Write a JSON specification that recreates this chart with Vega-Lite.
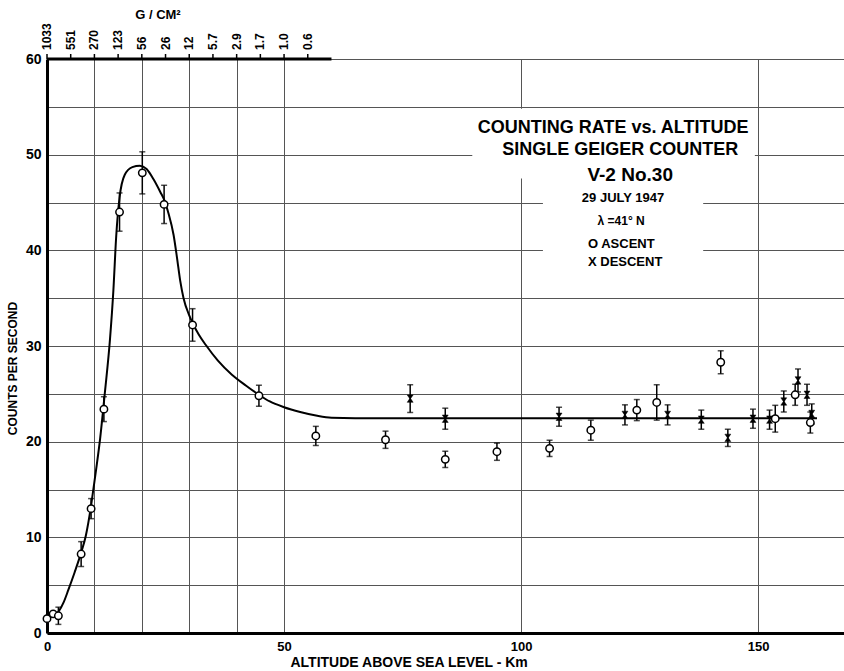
{
  "$schema": "https://vega.github.io/schema/vega-lite/v6.json",
  "width": 797,
  "height": 574,
  "autosize": {"type": "none"},
  "padding": {"left": 47, "top": 59, "right": 0, "bottom": 38},
  "background": "white",
  "config": {
    "view": {"stroke": null},
    "font": "Liberation Sans",
    "axis": {
      "labelFont": "Liberation Sans",
      "labelFontWeight": "bold",
      "labelColor": "black",
      "titleFont": "Liberation Sans",
      "titleFontWeight": "bold",
      "titleColor": "black",
      "gridColor": "#555555",
      "gridWidth": 1,
      "domainColor": "black",
      "tickColor": "black"
    },
    "text": {"font": "Liberation Sans", "fontWeight": "bold", "color": "black"}
  },
  "datasets": {
    "curve": [
      {"km": 0, "rate": 1.5}, {"km": 1, "rate": 1.7}, {"km": 2.4, "rate": 2.2}, {"km": 3.5, "rate": 3.2},
      {"km": 4.5, "rate": 4.5}, {"km": 5.8, "rate": 6.3}, {"km": 7.2, "rate": 8.4}, {"km": 8.2, "rate": 10.2},
      {"km": 9.2, "rate": 13.0}, {"km": 9.8, "rate": 15.1}, {"km": 10.5, "rate": 17.6}, {"km": 11.2, "rate": 20.3},
      {"km": 12.2, "rate": 25.1}, {"km": 13.3, "rate": 30.8}, {"km": 14.0, "rate": 35.8}, {"km": 14.6, "rate": 41.5},
      {"km": 15.3, "rate": 45.5}, {"km": 16.4, "rate": 47.9}, {"km": 18.0, "rate": 48.7}, {"km": 19.6, "rate": 48.85},
      {"km": 21.0, "rate": 48.5}, {"km": 22.5, "rate": 47.4}, {"km": 24.0, "rate": 46.0}, {"km": 24.7, "rate": 45.3},
      {"km": 25.6, "rate": 43.9}, {"km": 26.7, "rate": 41.6}, {"km": 27.4, "rate": 39.3}, {"km": 28.1, "rate": 36.8},
      {"km": 28.8, "rate": 35.0}, {"km": 30.0, "rate": 33.2}, {"km": 30.7, "rate": 32.4}, {"km": 32.0, "rate": 31.2},
      {"km": 33.5, "rate": 30.1}, {"km": 36.0, "rate": 28.5}, {"km": 39.0, "rate": 27.0}, {"km": 42.0, "rate": 25.85},
      {"km": 44.7, "rate": 24.9}, {"km": 47.0, "rate": 24.2}, {"km": 50.0, "rate": 23.6}, {"km": 53.4, "rate": 23.1},
      {"km": 57.0, "rate": 22.7}, {"km": 60.0, "rate": 22.5}, {"km": 65.0, "rate": 22.45}, {"km": 162.4, "rate": 22.45}
    ],
    "gcm": [
      {"km": 0, "label": "1033"}, {"km": 5, "label": "551"}, {"km": 10, "label": "270"}, {"km": 15, "label": "123"},
      {"km": 20, "label": "56"}, {"km": 25, "label": "26"}, {"km": 30, "label": "12"}, {"km": 35, "label": "5.7"},
      {"km": 40, "label": "2.9"}, {"km": 45, "label": "1.7"}, {"km": 50, "label": "1.0"}, {"km": 55, "label": "0.6"}
    ],
    "points": [
      {"km": 0, "rate": 1.5, "err": 0, "phase": "ascent"},
      {"km": 1.3, "rate": 2.0, "err": 0, "phase": "ascent"},
      {"km": 2.4, "rate": 1.8, "err": 0.9, "phase": "ascent"},
      {"km": 7.2, "rate": 8.25, "err": 1.3, "phase": "ascent"},
      {"km": 9.3, "rate": 13.0, "err": 1.05, "phase": "ascent"},
      {"km": 12.0, "rate": 23.4, "err": 1.3, "phase": "ascent"},
      {"km": 15.3, "rate": 44.0, "err": 2.0, "phase": "ascent"},
      {"km": 20.1, "rate": 48.1, "err": 2.2, "phase": "ascent"},
      {"km": 24.7, "rate": 44.8, "err": 2.0, "phase": "ascent"},
      {"km": 30.7, "rate": 32.2, "err": 1.7, "phase": "ascent"},
      {"km": 44.7, "rate": 24.8, "err": 1.1, "phase": "ascent"},
      {"km": 56.7, "rate": 20.6, "err": 1.0, "phase": "ascent"},
      {"km": 71.4, "rate": 20.2, "err": 0.9, "phase": "ascent"},
      {"km": 84.0, "rate": 18.15, "err": 0.85, "phase": "ascent"},
      {"km": 94.9, "rate": 18.95, "err": 0.9, "phase": "ascent"},
      {"km": 106.0, "rate": 19.3, "err": 0.85, "phase": "ascent"},
      {"km": 114.7, "rate": 21.2, "err": 1.05, "phase": "ascent"},
      {"km": 124.4, "rate": 23.3, "err": 1.1, "phase": "ascent"},
      {"km": 128.6, "rate": 24.1, "err": 1.85, "phase": "ascent"},
      {"km": 142.1, "rate": 28.3, "err": 1.2, "phase": "ascent"},
      {"km": 153.6, "rate": 22.4, "err": 1.4, "phase": "ascent"},
      {"km": 157.8, "rate": 24.9, "err": 1.1, "phase": "ascent"},
      {"km": 161.0, "rate": 22.0, "err": 1.1, "phase": "ascent"},
      {"km": 76.6, "rate": 24.5, "err": 1.45, "phase": "descent"},
      {"km": 84.0, "rate": 22.4, "err": 1.1, "phase": "descent"},
      {"km": 108.0, "rate": 22.6, "err": 1.0, "phase": "descent"},
      {"km": 121.9, "rate": 22.8, "err": 1.05, "phase": "descent"},
      {"km": 130.9, "rate": 22.8, "err": 1.05, "phase": "descent"},
      {"km": 138.0, "rate": 22.3, "err": 1.0, "phase": "descent"},
      {"km": 143.6, "rate": 20.4, "err": 0.9, "phase": "descent"},
      {"km": 148.9, "rate": 22.4, "err": 1.0, "phase": "descent"},
      {"km": 152.4, "rate": 22.3, "err": 1.0, "phase": "descent"},
      {"km": 155.4, "rate": 24.2, "err": 1.1, "phase": "descent"},
      {"km": 158.4, "rate": 26.4, "err": 1.2, "phase": "descent"},
      {"km": 160.3, "rate": 24.9, "err": 1.1, "phase": "descent"},
      {"km": 161.3, "rate": 22.9, "err": 1.05, "phase": "descent"}
    ]
  },
  "layer": [
    {
      "data": {"name": "curve"},
      "mark": {"type": "line", "color": "black", "strokeWidth": 2, "interpolate": "monotone"},
      "encoding": {
        "x": {
          "field": "km", "type": "quantitative", "title": "ALTITUDE ABOVE SEA LEVEL - Km",
          "scale": {"domain": [0, 168.1], "nice": false, "zero": false},
          "axis": {
            "orient": "bottom",
            "values": [0, 10, 20, 30, 40, 50, 100, 150],
            "labelExpr": "datum.value % 50 == 0 ? datum.label : ''",
            "ticks": false,
            "grid": true,
            "domainWidth": 3,
            "labelFontSize": 13,
            "labelPadding": 7,
            "labelFlush": false,
            "title": "ALTITUDE ABOVE SEA LEVEL - Km",
            "titleFontSize": 14,
            "titleX": 243,
            "titleY": 29,
            "titleAlign": "left",
            "titleBaseline": "middle"
          }
        },
        "y": {
          "field": "rate", "type": "quantitative", "title": "COUNTS PER SECOND",
          "scale": {"domain": [0, 60], "nice": false, "zero": false},
          "axis": {
            "orient": "left",
            "values": [0, 5, 10, 15, 20, 25, 30, 35, 40, 45, 50, 55, 60],
            "labelExpr": "datum.value % 10 == 0 ? datum.label : ''",
            "ticks": false,
            "grid": true,
            "domain": true,
            "domainWidth": 3,
            "labelFontSize": 14,
            "labelPadding": 6,
            "labelFlush": false,
            "title": "COUNTS PER SECOND",
            "titleFontSize": 12,
            "titleX": -35,
            "titleY": 309,
            "titleAngle": 270,
            "titleAlign": "center",
            "titleBaseline": "middle"
          }
        }
      }
    },
    {
      "data": {"values": [{}]},
      "mark": {"type": "rect", "fill": "white"},
      "encoding": {
        "x": {"datum": 89.7, "type": "quantitative", "title": "ALTITUDE ABOVE SEA LEVEL - Km"},
        "x2": {"datum": 149.3},
        "y": {"datum": 47.5, "type": "quantitative", "title": "COUNTS PER SECOND"},
        "y2": {"datum": 54.8}
      }
    },
    {
      "data": {"values": [{}]},
      "mark": {"type": "rect", "fill": "white"},
      "encoding": {
        "x": {"datum": 104.6, "type": "quantitative", "title": "ALTITUDE ABOVE SEA LEVEL - Km"},
        "x2": {"datum": 138.4},
        "y": {"datum": 36.6, "type": "quantitative", "title": "COUNTS PER SECOND"},
        "y2": {"datum": 47.5}
      }
    },
    {
      "data": {"values": [{}]},
      "mark": {"type": "rule", "color": "black", "strokeWidth": 3},
      "encoding": {
        "x": {"datum": 0, "type": "quantitative", "title": "ALTITUDE ABOVE SEA LEVEL - Km"},
        "x2": {"datum": 60},
        "y": {"datum": 60, "type": "quantitative", "title": "COUNTS PER SECOND"}
      }
    },
    {
      "data": {"name": "gcm"},
      "mark": {"type": "tick", "orient": "vertical", "size": 5, "thickness": 1.5, "color": "black", "yOffset": -2.5, "opacity": 1},
      "encoding": {
        "x": {"field": "km", "type": "quantitative", "title": "ALTITUDE ABOVE SEA LEVEL - Km"},
        "y": {"datum": 60, "type": "quantitative", "title": "COUNTS PER SECOND"}
      }
    },
    {
      "data": {"name": "gcm"},
      "mark": {"type": "text", "angle": 270, "align": "left", "baseline": "middle", "fontSize": 12, "yOffset": -9},
      "encoding": {
        "x": {"field": "km", "type": "quantitative", "title": "ALTITUDE ABOVE SEA LEVEL - Km"},
        "y": {"datum": 60, "type": "quantitative", "title": "COUNTS PER SECOND"},
        "text": {"field": "label"}
      }
    },
    {
      "data": {"values": [{}]},
      "mark": {"type": "text", "text": "G   / CM²", "fontSize": 13, "align": "center", "baseline": "middle", "yOffset": -44},
      "encoding": {
        "x": {"datum": 23.4, "type": "quantitative", "title": "ALTITUDE ABOVE SEA LEVEL - Km"},
        "y": {"datum": 60, "type": "quantitative", "title": "COUNTS PER SECOND"}
      }
    },
    {
      "data": {"name": "points"},
      "transform": [{"filter": "datum.err > 0"}],
      "mark": {"type": "errorbar", "ticks": true, "size": 6, "thickness": 1.5, "color": "black"},
      "encoding": {
        "x": {"field": "km", "type": "quantitative", "title": "ALTITUDE ABOVE SEA LEVEL - Km"},
        "y": {"field": "rate", "type": "quantitative", "title": "COUNTS PER SECOND"},
        "yError": {"field": "err"}
      }
    },
    {
      "data": {"name": "points"},
      "transform": [{"filter": "datum.phase == 'ascent'"}],
      "mark": {"type": "point", "shape": "circle", "filled": true, "fill": "white", "stroke": "black", "strokeWidth": 1.5, "size": 55, "opacity": 1},
      "encoding": {
        "x": {"field": "km", "type": "quantitative", "title": "ALTITUDE ABOVE SEA LEVEL - Km"},
        "y": {"field": "rate", "type": "quantitative", "title": "COUNTS PER SECOND"}
      }
    },
    {
      "data": {"name": "points"},
      "transform": [{"filter": "datum.phase == 'descent'"}],
      "mark": {"type": "point", "shape": "M-0.8,-1L0.8,-1L0.12,0L0.8,1L-0.8,1L-0.12,0Z", "filled": true, "fill": "black", "stroke": "black", "strokeWidth": 0.5, "size": 55, "opacity": 1},
      "encoding": {
        "x": {"field": "km", "type": "quantitative", "title": "ALTITUDE ABOVE SEA LEVEL - Km"},
        "y": {"field": "rate", "type": "quantitative", "title": "COUNTS PER SECOND"}
      }
    },
    {
      "data": {"values": [{}]},
      "mark": {"type": "text", "text": "COUNTING RATE vs. ALTITUDE", "fontSize": 18, "align": "center", "baseline": "middle"},
      "encoding": {
        "x": {"datum": 119.4, "type": "quantitative", "title": "ALTITUDE ABOVE SEA LEVEL - Km"},
        "y": {"datum": 52.8, "type": "quantitative", "title": "COUNTS PER SECOND"}
      }
    },
    {
      "data": {"values": [{}]},
      "mark": {"type": "text", "text": "SINGLE  GEIGER  COUNTER", "fontSize": 18, "align": "center", "baseline": "middle"},
      "encoding": {
        "x": {"datum": 120.9, "type": "quantitative", "title": "ALTITUDE ABOVE SEA LEVEL - Km"},
        "y": {"datum": 50.5, "type": "quantitative", "title": "COUNTS PER SECOND"}
      }
    },
    {
      "data": {"values": [{}]},
      "mark": {"type": "text", "text": "V-2  No.30", "fontSize": 19, "align": "center", "baseline": "middle"},
      "encoding": {
        "x": {"datum": 123.0, "type": "quantitative", "title": "ALTITUDE ABOVE SEA LEVEL - Km"},
        "y": {"datum": 47.9, "type": "quantitative", "title": "COUNTS PER SECOND"}
      }
    },
    {
      "data": {"values": [{}]},
      "mark": {"type": "text", "text": "29 JULY 1947", "fontSize": 13, "align": "center", "baseline": "middle"},
      "encoding": {
        "x": {"datum": 121.5, "type": "quantitative", "title": "ALTITUDE ABOVE SEA LEVEL - Km"},
        "y": {"datum": 45.5, "type": "quantitative", "title": "COUNTS PER SECOND"}
      }
    },
    {
      "data": {"values": [{}]},
      "mark": {"type": "text", "text": "λ  =41° N", "fontSize": 12, "align": "center", "baseline": "middle"},
      "encoding": {
        "x": {"datum": 121.1, "type": "quantitative", "title": "ALTITUDE ABOVE SEA LEVEL - Km"},
        "y": {"datum": 43.1, "type": "quantitative", "title": "COUNTS PER SECOND"}
      }
    },
    {
      "data": {"values": [{}]},
      "mark": {"type": "text", "text": "O  ASCENT", "fontSize": 13, "align": "left", "baseline": "middle"},
      "encoding": {
        "x": {"datum": 114.1, "type": "quantitative", "title": "ALTITUDE ABOVE SEA LEVEL - Km"},
        "y": {"datum": 40.7, "type": "quantitative", "title": "COUNTS PER SECOND"}
      }
    },
    {
      "data": {"values": [{}]},
      "mark": {"type": "text", "text": "X  DESCENT", "fontSize": 13, "align": "left", "baseline": "middle"},
      "encoding": {
        "x": {"datum": 114.1, "type": "quantitative", "title": "ALTITUDE ABOVE SEA LEVEL - Km"},
        "y": {"datum": 38.8, "type": "quantitative", "title": "COUNTS PER SECOND"}
      }
    }
  ]
}
